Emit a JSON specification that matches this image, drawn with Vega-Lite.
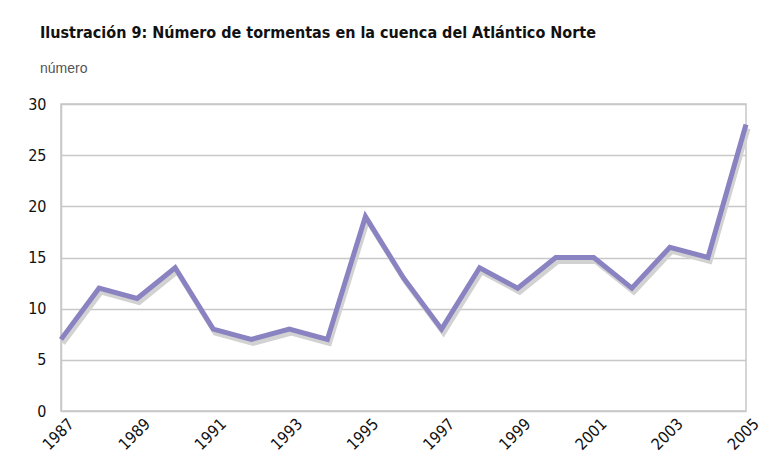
{
  "$schema": "https://vega.github.io/schema/vega-lite/v6.json",
  "autosize": {"type": "none"},
  "width": 685,
  "height": 307,
  "padding": {"left": 61, "top": 104, "right": 33, "bottom": 62},
  "background": "white",
  "title": {
    "text": "Ilustración 9: Número de tormentas en la cuenca del Atlántico Norte",
    "subtitle": "número",
    "anchor": "start",
    "frame": "group",
    "dx": -21,
    "offset": 20,
    "font": "DejaVu Sans Condensed, sans-serif",
    "fontSize": 16,
    "fontWeight": "bold",
    "color": "#111111",
    "subtitleFont": "Liberation Sans, sans-serif",
    "subtitleFontSize": 14,
    "subtitleColor": "#555555",
    "subtitlePadding": 21
  },
  "data": {
    "values": [
      {"year": 1987, "n": 7},
      {"year": 1988, "n": 12},
      {"year": 1989, "n": 11},
      {"year": 1990, "n": 14},
      {"year": 1991, "n": 8},
      {"year": 1992, "n": 7},
      {"year": 1993, "n": 8},
      {"year": 1994, "n": 7},
      {"year": 1995, "n": 19},
      {"year": 1996, "n": 13},
      {"year": 1997, "n": 8},
      {"year": 1998, "n": 14},
      {"year": 1999, "n": 12},
      {"year": 2000, "n": 15},
      {"year": 2001, "n": 15},
      {"year": 2002, "n": 12},
      {"year": 2003, "n": 16},
      {"year": 2004, "n": 15},
      {"year": 2005, "n": 28}
    ]
  },
  "encoding": {
    "x": {
      "field": "year",
      "type": "quantitative",
      "scale": {"domain": [1987, 2005], "nice": false, "zero": false},
      "axis": {
        "title": null,
        "values": [1987, 1989, 1991, 1993, 1995, 1997, 1999, 2001, 2003, 2005],
        "format": "d",
        "grid": false,
        "ticks": false,
        "domain": false,
        "labelAngle": -45,
        "labelAlign": "right",
        "labelBaseline": "middle",
        "labelPadding": 10,
        "labelOffset": 10,
        "labelFont": "DejaVu Sans Condensed, sans-serif",
        "labelFontSize": 16,
        "labelColor": "#111111"
      }
    },
    "y": {
      "field": "n",
      "type": "quantitative",
      "scale": {"domain": [0, 30], "nice": false},
      "axis": {
        "title": null,
        "values": [0, 5, 10, 15, 20, 25, 30],
        "grid": true,
        "gridColor": "#c8c8c8",
        "gridWidth": 1.5,
        "ticks": false,
        "domain": true,
        "domainColor": "#c8c8c8",
        "domainWidth": 1.5,
        "labelPadding": 15,
        "labelFont": "DejaVu Sans Condensed, sans-serif",
        "labelFontSize": 16,
        "labelColor": "#111111"
      }
    }
  },
  "layer": [
    {
      "mark": {"type": "line", "color": "#d2d2d2", "strokeWidth": 5, "xOffset": 2, "yOffset": 4, "strokeJoin": "miter"}
    },
    {
      "mark": {"type": "line", "color": "#8a83c1", "strokeWidth": 5, "strokeJoin": "miter"}
    }
  ],
  "config": {
    "view": {"stroke": "#c8c8c8", "strokeWidth": 1.5}
  }
}
